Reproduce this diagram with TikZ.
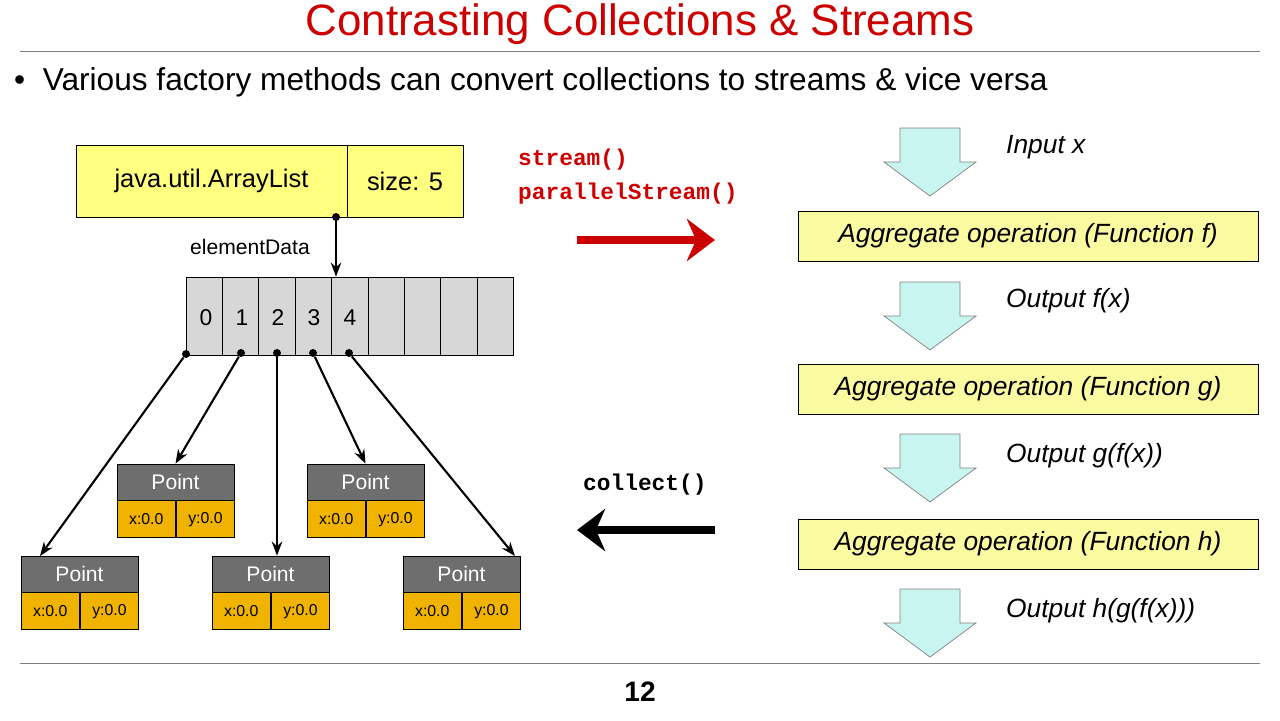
\documentclass[tikz,border=0pt]{standalone}
\usepackage{fontspec}
\setmainfont{Liberation Sans}
\newfontfamily\codefont{Liberation Mono}
\usetikzlibrary{positioning, arrows.meta}
\definecolor{titlered}{RGB}{204,0,0}
\definecolor{boxyellow}{RGB}{255,255,128}
\definecolor{opyellow}{RGB}{250,250,160}
\definecolor{ptgray}{RGB}{110,110,110}
\definecolor{ptorange}{RGB}{240,180,0}
\definecolor{arrcyan}{RGB}{200,245,240}
\definecolor{cellgray}{RGB}{215,215,215}

\begin{document}
\begin{tikzpicture}[x=0.02cm, y=-0.02cm,
    ybox/.style={draw, fill=boxyellow, minimum height=72*0.02cm, font=\fontsize{14.5}{14.5}\selectfont, inner sep=0pt},
    cell/.style={draw, fill=cellgray, minimum width=36.4*0.02cm, minimum height=78*0.02cm, inner sep=0pt, font=\fontsize{14}{14}\selectfont},
    phead/.style={draw, fill=ptgray, text=white, minimum width=117*0.02cm, minimum height=36*0.02cm, inner sep=0pt, font=\fontsize{12}{12}\selectfont},
    pval/.style={draw, fill=ptorange, minimum width=58.5*0.02cm, minimum height=37*0.02cm, inner sep=0pt, font=\fontsize{9}{9}\selectfont},
    op/.style={draw, fill=opyellow, minimum width=460*0.02cm, minimum height=50*0.02cm, inner sep=0pt, font=\fontsize{15}{15}\selectfont\itshape},
    lab/.style={anchor=west, font=\fontsize{15}{15}\selectfont\itshape},
    dot/.style={circle, fill, inner sep=1.6pt},
    ptr/.style={-{Stealth[length=8pt]}, line width=1.2pt},
    code/.style={anchor=west, font=\fontsize{13}{13}\selectfont\codefont\bfseries}]
    \useasboundingbox (0,0) rectangle (1280,720);

    % title and bullet
    \node[text=titlered, font=\fontsize{25}{25}\selectfont] (title) at (640,24) {Contrasting Collections \& Streams};
    \draw[gray] (20,51) -- (1260,51);
    \node[anchor=west, font=\fontsize{18}{18}\selectfont] (bullet) at (8,82) {\textbullet\ \ Various factory methods can convert collections to streams \& vice versa};

    % ArrayList
    \node[ybox, minimum width=271*0.02cm] (list) at (211.5,181) {java.util.ArrayList};
    \node[ybox, minimum width=116*0.02cm] (size) at (405,181) {size: 5};
    \node[dot] (ed) at (336,217) {};
    \node[font=\fontsize{12}{12}\selectfont] (edlab) at (250,247) {elementData};

    % backing array
    \foreach \i in {0,...,8} {
        \node[cell] (c\i) at ({204.2+36.4*\i},316) {};
    }
    \foreach \i in {0,...,4} {
        \node[font=\fontsize{13}{13}\selectfont] at ({206+36*\i},318) {\i};
    }
    \draw[ptr] (ed) -- (c4.north west -| ed);
    \node[dot] (d0) at (186,354) {};
    \node[dot] (d1) at (241,353) {};
    \node[dot] (d2) at (277,353) {};
    \node[dot] (d3) at (313,353) {};
    \node[dot] (d4) at (349,353) {};

    % points
    \foreach \n/\x/\y in {p1/175.5/482, p2/365.5/482, p3/79.5/574, p4/270.5/574, p5/461.5/574} {
        \node[phead] (\n) at (\x,\y) {Point};
        \node[pval, below=0pt of \n.south west, anchor=north west] (\n x) {x:0.0};
        \node[pval, right=0pt of \n x] (\n y) {y:0.0};
    }
    \draw[ptr] (d0) -- (40,556);
    \draw[ptr] (d1) -- (p1.north);
    \draw[ptr] (d2) -- (p4.north -| d2);
    \draw[ptr] (d3) -- (p2.north);
    \draw[ptr] (d4) -- (515,556);

    % conversions
    \node[code, text=titlered] (s1) at (512,160) {stream()};
    \node[code, text=titlered] (s2) at (512,194) {parallelStream()};
    \coordinate (ra) at (577,240);
    \coordinate (rb) at (715,240);
    \draw[titlered, line width=4pt, -{Stealth[length=16pt, width=24pt]}] (ra) -- (rb);
    \node[code] (col) at (577,485) {collect()};
    \coordinate (ba) at (715,530);
    \coordinate (bb) at (577,530);
    \draw[line width=4pt, -{Stealth[length=16pt, width=24pt]}] (ba) -- (bb);

    % pipeline
    \foreach \n/\y in {a1/128, a2/282, a3/434, a4/589} {
        \draw[fill=arrcyan, draw=gray] (900,\y) -- (960,\y) -- (960,\y+34) -- (976,\y+34)
            -- (930,\y+68) -- (884,\y+34) -- (900,\y+34) -- cycle;
    }
    \node[op] (f) at (1028,236) {Aggregate operation (Function f)};
    \node[op] (g) at (1028,389) {Aggregate operation (Function g)};
    \node[op] (h) at (1028,544) {Aggregate operation (Function h)};
    \node[lab] (in) at (1000,147) {Input x};
    \node[lab] (of) at (1000,301) {Output f(x)};
    \node[lab] (og) at (1000,456) {Output g(f(x))};
    \node[lab] (oh) at (1000,611) {Output h(g(f(x)))};

    % footer
    \draw[gray] (20,663) -- (1260,663);
    \node[font=\fontsize{16}{16}\selectfont\bfseries] (page) at (640,692) {12};
\end{tikzpicture}
\end{document}
